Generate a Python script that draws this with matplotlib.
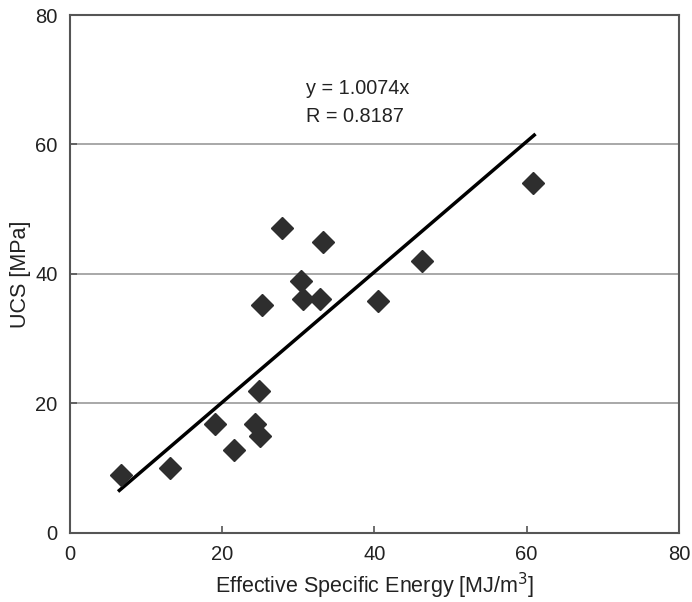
import matplotlib
matplotlib.use("Agg")
import matplotlib.pyplot as plt
import numpy as np

plt.rcParams['font.family'] = ['Liberation Sans', 'DejaVu Sans']

# measured samples: effective specific energy vs UCS
energy = [6.7, 13.1, 19.1, 21.6, 24.3, 24.8, 25.0, 25.3, 27.8, 30.4, 30.6, 32.9, 33.3, 40.5, 46.2, 60.9]
ucs = [9.0, 10.0, 16.8, 12.8, 16.8, 21.9, 15.0, 35.2, 47.1, 38.9, 36.1, 36.1, 44.9, 35.8, 42.0, 54.1]

slope = 1.0074
r_value = 0.8187
fit_range = [6.5, 61.0]

fig = plt.figure(figsize=(6.92, 6.02), dpi=100)
ax = fig.add_axes([0.101, 0.115, 0.880, 0.860])

for yv in [20, 40, 60]:
    ax.axhline(yv, color='#999999', lw=1.2, zorder=0)

fx = np.array(fit_range)
ax.plot(fx, slope * fx, color='black', lw=2.5, zorder=2)
ax.plot(energy, ucs, 'D', color='#2e2e2e', ms=11, mec='#2e2e2e', zorder=3)

ax.text(31.0, 68.7, f"y = {slope}x", fontsize=14.3, va='center', color='#222222')
ax.text(31.0, 64.3, f"R = {r_value}", fontsize=14.3, va='center', color='#222222')

ax.set_xlim(0, 80)
ax.set_ylim(0, 80)
ax.set_xticks([0, 20, 40, 60, 80])
ax.set_yticks([0, 20, 40, 60, 80])
ax.tick_params(direction='in', length=5, width=1.2, colors='#555555', labelcolor='#222222',
               labelsize=14.5, pad=9)
for s in ax.spines.values():
    s.set_color('#555555')
    s.set_linewidth(1.5)

ax.set_xlabel('Effective Specific Energy [MJ/m$^3$]', fontsize=15.5, color='#222222', labelpad=5)
ax.set_ylabel('UCS [MPa]', fontsize=15.5, color='#222222', labelpad=3)

fig.savefig('out.png', dpi=100)
